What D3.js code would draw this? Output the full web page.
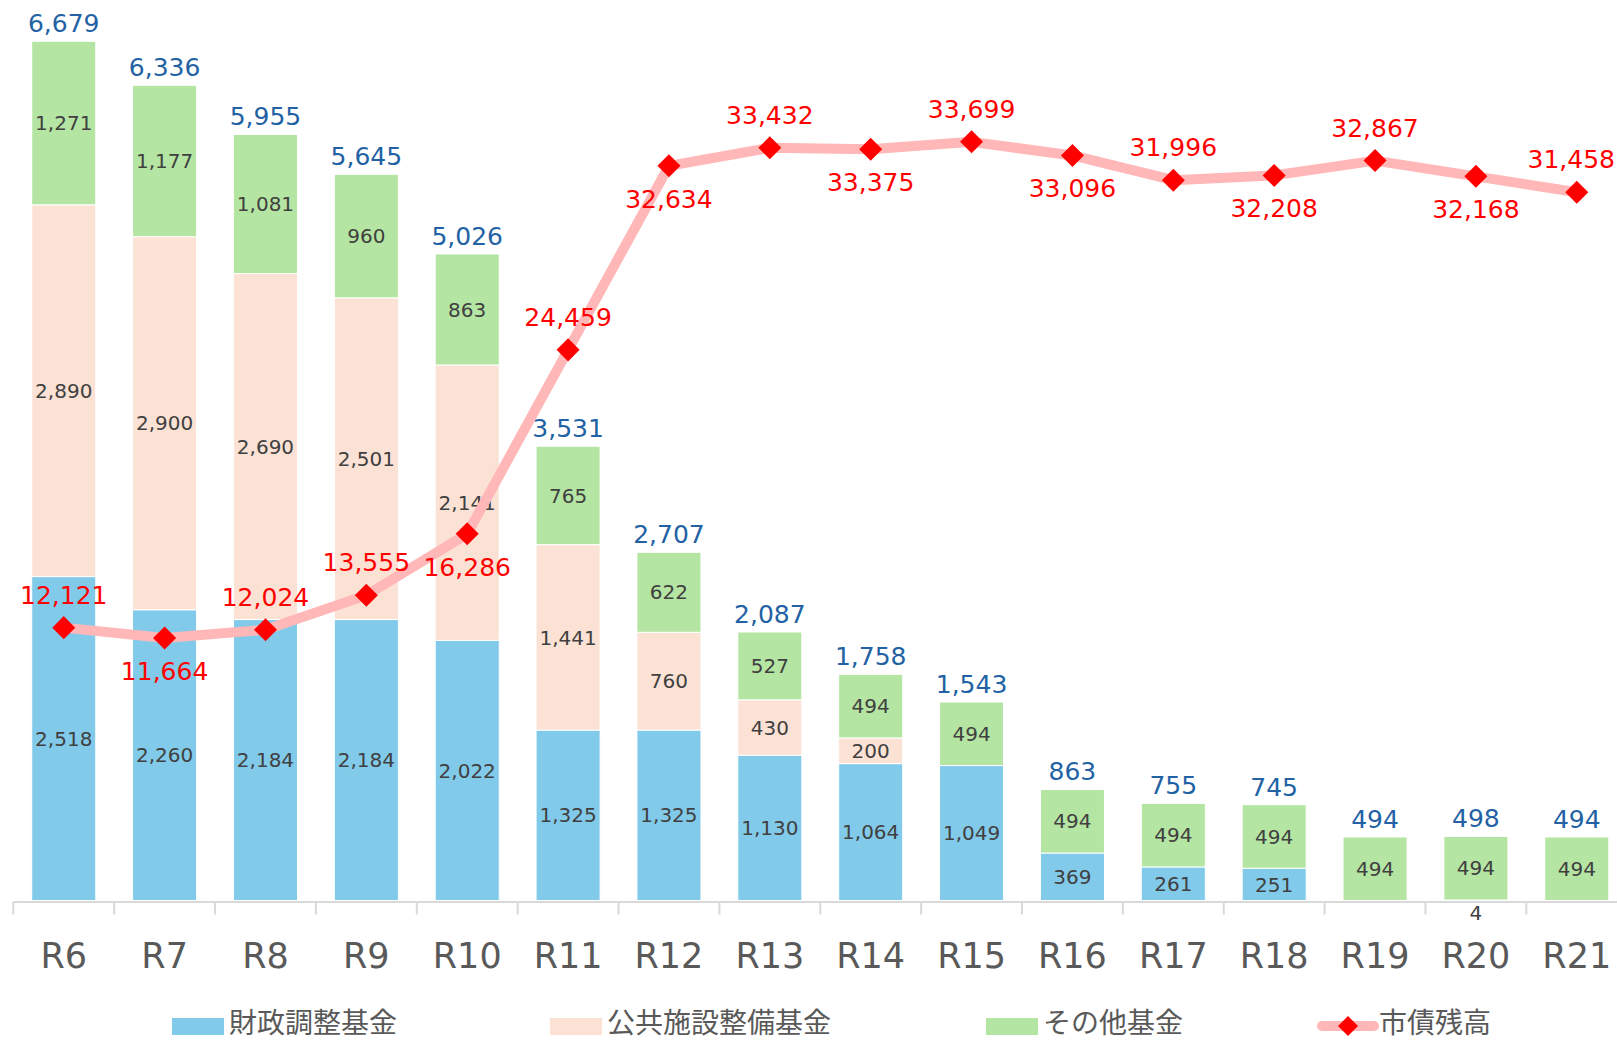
<!DOCTYPE html>
<html>
<head>
<meta charset="utf-8">
<script src="https://cdn.jsdelivr.net/npm/d3@7"></script>
<style>
  body { margin: 0; background: #fff; }
  svg { display: block; }
</style>
</head>
<body>
<div id="chart"></div>
<script>
// categories and values
var years = ["R6","R7","R8","R9","R10","R11","R12","R13","R14","R15","R16","R17","R18","R19","R20","R21"];
var zaisei  = [2518,2260,2184,2184,2022,1325,1325,1130,1064,1049,369,261,251,0,4,0];
var koukyou = [2890,2900,2690,2501,2141,1441,760,430,200,0,0,0,0,0,0,0];
var sonota  = [1271,1177,1081,960,863,765,622,527,494,494,494,494,494,494,494,494];
var totals  = [6679,6336,5955,5645,5026,3531,2707,2087,1758,1543,863,755,745,494,498,494];
var shisai  = [12121,11664,12024,13555,16286,24459,32634,33432,33375,33699,33096,31996,32208,32867,32168,31458];
var seriesNames = ["財政調整基金","公共施設整備基金","その他基金"];
var lineName = "市債残高";
// which side of the marker each debt label sits on
var lineLabelSide = ["a","b","a","a","b","a","b","a","b","a","b","a","b","a","b","a"];

var width = 1617, height = 1042;
var base = 900.5;
var colors = ["#82CAEA","#FBE2D5","#B5E5A2"];
var numFont = "'DejaVu Sans', Verdana, sans-serif";
var cjkFont = "'Noto Sans CJK JP', 'Noto Sans', sans-serif";
var fmt = d3.format(",");

var svg = d3.select("#chart")
  .append("svg")
  .attr("width", width)
  .attr("height", height);

var x = d3.scaleBand()
  .domain(years)
  .range([13.3, 13.3 + 16*100.87])
  .paddingInner(0.365)
  .paddingOuter(0.1825);

var y = d3.scaleLinear().domain([0, 7000]).range([base, 0]);
var y2 = d3.scaleLinear().domain([0, 40000]).range([base, 0]);

// stack table
var table = years.map(function(d, i) {
  return { year: d, s0: zaisei[i], s1: koukyou[i], s2: sonota[i] };
});
var stack = d3.stack().keys(["s0","s1","s2"]);
var layers = stack(table);

var g = svg.append("g");

layers.forEach(function(layer, k) {
  g.append("g")
    .selectAll("rect")
    .data(layer.filter(function(d) { return d[1] - d[0] > 0; }))
    .enter()
    .append("rect")
    .attr("x", function(d) { return x(d.data.year); })
    .attr("width", x.bandwidth())
    .attr("y", function(d) { return y(d[1]); })
    .attr("height", function(d) { return y(d[0]) - y(d[1]); })
    .attr("fill", colors[k])
    .attr("stroke", "#fff")
    .attr("stroke-width", 1);
});

// segment labels
layers.forEach(function(layer, k) {
  g.append("g")
    .selectAll("text")
    .data(layer.filter(function(d) { return d[1] - d[0] > 0; }))
    .enter()
    .append("text")
    .attr("x", function(d) { return x(d.data.year) + x.bandwidth()/2; })
    .attr("y", function(d) {
      var h = y(d[0]) - y(d[1]);
      // too thin to hold the label: put it just under the base
      if (h < 20) return y(d[0]) + 12;
      return (y(d[0]) + y(d[1]))/2;
    })
    .attr("dy", "0.36em")
    .attr("text-anchor", "middle")
    .attr("font-family", numFont)
    .attr("font-size", 20)
    .attr("fill", "#404040")
    .text(function(d) { return fmt(d[1] - d[0]); });
});

// totals
g.append("g")
  .selectAll("text")
  .data(totals)
  .enter()
  .append("text")
  .attr("x", function(d, i) { return x(years[i]) + x.bandwidth()/2; })
  .attr("y", function(d, i) { return y(zaisei[i] + koukyou[i] + sonota[i]) - 9; })
  .attr("text-anchor", "middle")
  .attr("font-family", numFont)
  .attr("font-size", 25)
  .attr("fill", "#2262A4")
  .text(function(d) { return fmt(d); });

// category axis
var axis = svg.append("g")
  .attr("transform", "translate(0," + (base + 1.5) + ")")
  .call(d3.axisBottom(x).tickSize(0).tickPadding(0));
axis.select(".domain").remove();
axis.selectAll("text")
  .attr("y", 66)
  .attr("dy", 0)
  .attr("font-family", numFont)
  .attr("font-size", 35)
  .attr("fill", "#595959");

svg.append("line")
  .attr("x1", 13.3).attr("x2", width)
  .attr("y1", base + 1.5).attr("y2", base + 1.5)
  .attr("stroke", "#D9D9D9")
  .attr("stroke-width", 2);

svg.append("g")
  .selectAll("line")
  .data(years)
  .enter()
  .append("line")
  .attr("x1", function(d) { return x(d) - x.step()*x.paddingOuter(); })
  .attr("x2", function(d) { return x(d) - x.step()*x.paddingOuter(); })
  .attr("y1", base + 1.5)
  .attr("y2", base + 14)
  .attr("stroke", "#D9D9D9")
  .attr("stroke-width", 2);

// debt line
var cx = function(i) { return x(years[i]) + x.bandwidth()/2; };
var line = d3.line()
  .x(function(d, i) { return cx(i); })
  .y(function(d) { return y2(d); });

svg.append("path")
  .datum(shisai)
  .attr("d", line)
  .attr("fill", "none")
  .attr("stroke", "#FFB7B7")
  .attr("stroke-width", 10)
  .attr("stroke-linejoin", "round");

svg.append("g")
  .selectAll("path")
  .data(shisai)
  .enter()
  .append("path")
  .attr("d", d3.symbol().type(d3.symbolSquare).size(265))
  .attr("transform", function(d, i) { return "translate(" + cx(i) + "," + y2(d) + ") rotate(45)"; })
  .attr("fill", "#FF0000");

svg.append("g")
  .selectAll("text")
  .data(shisai)
  .enter()
  .append("text")
  .attr("x", function(d, i) { return cx(i); })
  .attr("y", function(d, i) { return y2(d) + (lineLabelSide[i] == "a" ? -33 : 33); })
  .attr("dy", "0.36em")
  .attr("text-anchor", "middle")
  .attr("font-family", numFont)
  .attr("font-size", 25)
  .attr("fill", "#FF0000")
  .text(function(d) { return fmt(d); })
  .each(function(d, i) {
    // keep the last label inside the picture
    var w = this.getComputedTextLength();
    var xx = Math.min(cx(i), width - w/2 - 2);
    d3.select(this).attr("x", xx);
  });

// legend
var legendX = [172, 550, 986];
var legend = svg.append("g");
seriesNames.forEach(function(name, i) {
  legend.append("rect")
    .attr("x", legendX[i]).attr("y", 1018)
    .attr("width", 52).attr("height", 17)
    .attr("fill", colors[i]);
  legend.append("text")
    .attr("x", legendX[i] + 57).attr("y", 1033)
    .attr("font-family", cjkFont)
    .attr("font-size", 28)
    .attr("fill", "#595959")
    .text(name);
});
legend.append("line")
  .attr("x1", 1322).attr("x2", 1374)
  .attr("y1", 1026).attr("y2", 1026)
  .attr("stroke", "#FFB7B7")
  .attr("stroke-width", 10)
  .attr("stroke-linecap", "round");
legend.append("path")
  .attr("d", d3.symbol().type(d3.symbolSquare).size(200))
  .attr("transform", "translate(1348,1026) rotate(45)")
  .attr("fill", "#FF0000");
legend.append("text")
  .attr("x", 1379).attr("y", 1033)
  .attr("font-family", cjkFont)
  .attr("font-size", 28)
  .attr("fill", "#595959")
  .text(lineName);
</script>
</body>
</html>
